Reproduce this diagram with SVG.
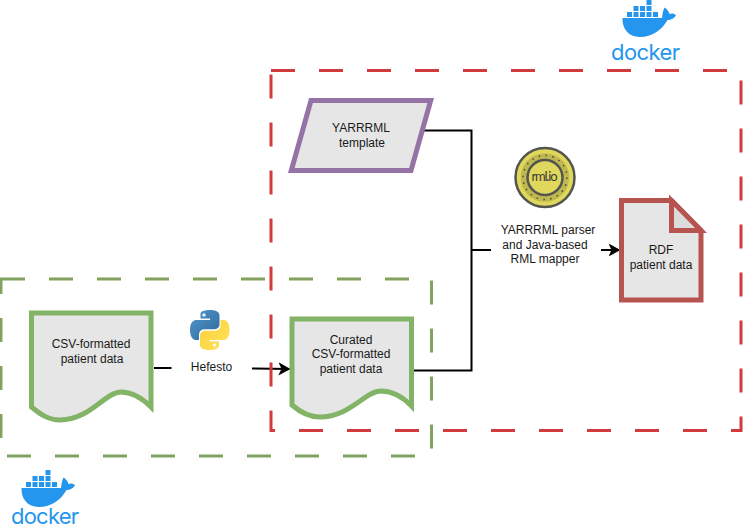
<svg xmlns="http://www.w3.org/2000/svg" width="743" height="529" viewBox="0 0 743 529">
<style>
.t{font-family:"Liberation Sans",Arial,sans-serif;font-size:12px;fill:#1a1a1a;text-anchor:middle}
.doc{fill:#e6e6e6;stroke:#82b366;stroke-width:5}
.box{fill:none;stroke-width:3;stroke-dasharray:24 24}
.c{fill:none;stroke:#000;stroke-width:2}
.d{font-family:Inter,sans-serif;font-size:22px;font-weight:400;fill:#2496ed;text-anchor:middle}
</style>
<defs>
<marker id="a" markerUnits="userSpaceOnUse" markerWidth="14" markerHeight="14" refX="11" refY="7" orient="auto"><path d="M1,1.500 L11,7 L1,12.500 L3.500,7 Z" fill="#000" stroke="#000"/></marker>
<linearGradient id="pb" x1="0" y1="0" x2="1" y2="1"><stop offset="0" stop-color="#4f96cf"/><stop offset="1" stop-color="#306998"/></linearGradient>
<linearGradient id="py" x1="0" y1="0" x2="1" y2="1"><stop offset="0" stop-color="#ffe25a"/><stop offset="1" stop-color="#fbd03e"/></linearGradient>
<g id="whale" fill="#2496ed">
<path d="M622.500,18 H662 C662.500,13.500 663,10.500 664.500,7.500 C667,9 669,11.500 669.500,14 C671.500,13 674,13.300 676,15 C674.500,18.500 671,20 667.500,20 C662,30 652,37 640,37 C628,37 622,28 622.500,18 Z"/>
<path d="M627,12h5v5h-5zM633.500,12h5v5h-5zM640,12h5v5h-5zM646.500,12h5v5h-5zM653,12h5v5h-5zM633.500,6h5v5h-5zM640,6h5v5h-5zM646.500,6h5v5h-5zM646.500,0h5v5h-5z"/>
</g>
</defs>
<g id="connectors">
<path class="c" d="M424,130.500 H471.500 V370.500 H414"/>
<path class="c" d="M471.500,250 H491"/>
<path class="c" d="M601,250 H619.500" marker-end="url(#a)"/>
<path class="c" d="M154,368 H171.500"/>
<path class="c" d="M252,368.500 L289.500,369" marker-end="url(#a)"/>
</g>
<g id="red-box"><rect class="box" x="271" y="70.500" width="470" height="360" stroke="#d13b3b"/></g>
<g id="green-box"><rect class="box" x="1" y="279" width="430.500" height="177" stroke="#82a35f"/></g>
<g id="csv"><path class="doc" d="M31.500,313 H151 V407 Q136,392 121,392 C105,392 90,420 60,420 C48,420 40,414 31.500,407 Z"/>
<text class="t" x="91" y="348">CSV-formatted</text><text class="t" x="92" y="363">patient data</text></g>
<g id="curated"><path class="doc" d="M292,319 H411.500 V406 Q397,391 381,391 C365,391 350,417 320,417 C308,417 300,412 292,405 Z"/>
<text class="t" x="351" y="344">Curated</text><text class="t" x="351" y="358">CSV-formatted</text><text class="t" x="351" y="373">patient data</text></g>
<g id="yarrrml"><path d="M311,100.500 H430.700 L411,170.500 H291.300 Z" fill="#e6e6e6" stroke="#9673a6" stroke-width="5"/>
<text class="t" x="361" y="132">YARRRML</text><text class="t" x="362" y="147">template</text></g>
<g id="rdf"><path d="M621.500,200.500 H671.500 L701,230.500 V300 H621.500 Z" fill="#e6e6e6" stroke="#b85450" stroke-width="5"/>
<path d="M671.500,200.500 V230.500 H701 Z" fill="#dcdcdc" stroke="#b85450" stroke-width="5"/>
<text class="t" x="661" y="254">RDF</text><text class="t" x="661" y="269">patient data</text></g>
<g id="python">
<g id="py-blue"><path transform="translate(190,310)" d="M19.700,0 C10,0 10.500,4.200 10.500,4.200 L10.500,8.600 H20 V10 H6.500 C6.500,10 0,9.300 0,19.800 C0,30.300 5.700,30 5.700,30 H9 V25 C9,25 8.800,19.300 14.600,19.300 H24.200 C24.200,19.300 29.500,19.400 29.500,14.100 V5.500 C29.500,5.500 30.300,0 19.700,0 Z" fill="url(#pb)"/><circle cx="204" cy="315" r="1.800" fill="#e6eef5"/></g>
<g id="py-yellow"><path transform="rotate(180 209.500 330)" d="M209.200,310 C199.500,310 200,314.200 200,314.200 L200,318.600 H209.500 V320 H196 C196,320 189.500,319.300 189.500,329.800 C189.500,340.300 195.200,340 195.200,340 H198.500 V335 C198.500,335 198.300,329.300 204.100,329.300 H213.700 C213.700,329.300 219,329.400 219,324.100 V315.500 C219,315.500 219.800,310 209.200,310 Z" fill="url(#py)"/><circle cx="214.500" cy="345" r="1.800" fill="#fff8dc"/></g>
<text class="t" x="211.500" y="371">Hefesto</text></g>
<g id="rml">
<circle cx="545" cy="177.500" r="29.500" fill="#dfd85c" stroke="#55554f" stroke-width="2.500"/>
<circle cx="545" cy="177.500" r="25" fill="#bfb84f" stroke="#dfd85c" stroke-width="1.500"/>
<circle cx="545" cy="177.500" r="22" fill="none" stroke="#4a4a40" stroke-width="1.500" stroke-dasharray="1.500 5.400"/>
<circle cx="545" cy="177.500" r="17.500" fill="#dfd85c" stroke="#55554f" stroke-width="2.500"/>
<text x="544.500" y="181" font-family="Lato,sans-serif" font-size="13" fill="#3c3c36" text-anchor="middle" textLength="26">rml.io</text>
<text class="t" x="548" y="234">YARRRML parser</text><text class="t" x="545" y="249">and Java-based</text><text class="t" x="545" y="263">RML mapper</text></g>
<g id="docker-top"><use href="#whale"/><text class="d" x="645.500" y="60" textLength="69">docker</text></g>
<g id="docker-bottom"><use href="#whale" transform="translate(-601,470)"/><text class="d" x="45" y="524" textLength="68">docker</text></g>
</svg>
